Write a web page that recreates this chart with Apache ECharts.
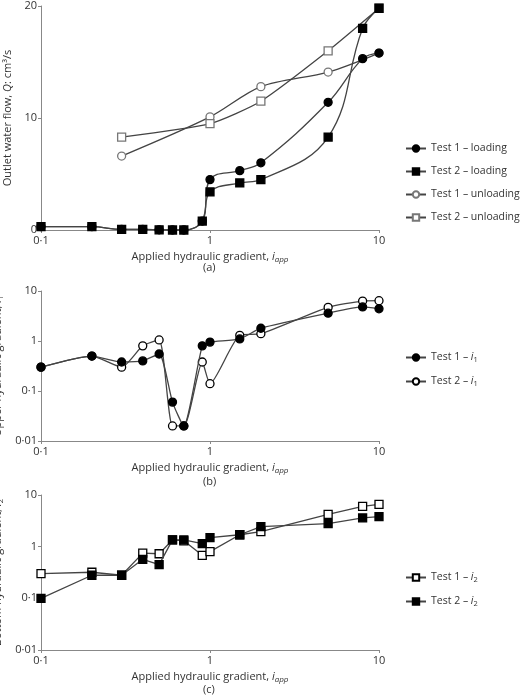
<!DOCTYPE html>
<html><head><meta charset="utf-8">
<script src="https://cdn.jsdelivr.net/npm/echarts@6/dist/echarts.min.js"></script>
<style>html,body{margin:0;padding:0;background:#fff}#c{width:520px;height:699px}</style>
</head><body><div id="c"></div>
<script>
const xAll = [0.1,0.2,0.3,0.4,0.5,0.6,0.7,0.9,1.0,1.5,2,5,8,10];
const xUnl = [0.3,1,2,5,10];
const aT1Load = [0.3,0.3,0.05,0.05,0.02,0,0,0.8,4.5,5.3,6.0,11.4,15.3,15.8];
const aT2Load = [0.3,0.3,0.05,0.05,0.02,0,0,0.8,3.4,4.2,4.5,8.3,18.0,19.8];
const aT1Unl = [6.6,10.1,12.8,14.1,15.8];
const aT2Unl = [8.3,9.5,11.5,16.0,19.8];
const bT1 = [0.3,0.5,0.38,0.4,0.55,0.06,0.02,0.8,0.95,1.1,1.8,3.6,4.8,4.4];
const bT2 = [0.3,0.5,0.3,0.8,1.05,0.02,0.02,0.38,0.14,1.3,1.4,4.7,6.3,6.4];
const cT1 = [0.3,0.32,0.28,0.75,0.73,1.35,1.3,0.68,0.8,1.7,1.95,4.2,6.0,6.6];
const cT2 = [0.1,0.28,0.28,0.57,0.45,1.35,1.35,1.15,1.5,1.7,2.45,2.8,3.6,3.8];

const pair = (xs, ys) => xs.map((x,i)=>[x,ys[i]]);
const F = 'Open Sans';
const fmt = v => String(+v.toPrecision(3)).replace('.', '·');
const txt = {color:'#333', fontFamily:F, fontSize:11};
const axLine = {show:true, lineStyle:{color:'#888', width:1}};
function xAxis(g){return {type:'log', gridIndex:g, min:0.1, max:10, logBase:10,
  axisLine:axLine, axisTick:{show:true,length:3,lineStyle:{color:'#888'}}, splitLine:{show:false}, minorTick:{show:false},
  axisLabel:Object.assign({formatter:fmt, margin:5},txt),
  name:'{n|Applied hydraulic gradient, }{i|i}{s|app}', nameLocation:'middle', nameGap:20,
  nameTextStyle:{rich:{n:txt, i:Object.assign({},txt,{fontStyle:'italic'}), s:Object.assign({},txt,{fontSize:8,fontStyle:'italic',padding:[6,0,0,0]})}}};}
function yLog(g,name,sub){return {type:'log', gridIndex:g, min:0.01, max:10, logBase:10,
  axisLine:axLine, axisTick:{show:true,length:3,lineStyle:{color:'#888'}}, splitLine:{show:false},
  axisLabel:Object.assign({formatter:fmt, margin:4},txt),
  name:'{n|'+name+'}{i|i}{s|'+sub+'}', nameLocation:'middle', nameGap:30,
  nameTextStyle:{rich:{n:txt, i:Object.assign({},txt,{fontStyle:'italic'}), s:Object.assign({},txt,{fontSize:8,padding:[5,0,0,0]})}}};}
function ser(name,g,data,sym,fill,border,smooth){return {name, type:'line', xAxisIndex:g, yAxisIndex:g, data,
  symbol:sym, symbolSize:8, smooth:smooth, clip:false, lineStyle:{color:'#444',width:1.3},
  itemStyle:{color:fill, borderColor:border, borderWidth:1.3}, emphasis:{disabled:true}, z:fill==='#fff'?3:4};}
const ltxt = {color:'#333', fontFamily:F, fontSize:10.5,
  rich:{n:{color:'#333',fontFamily:F,fontSize:10.5}, i:{color:'#333',fontFamily:F,fontSize:10.5,fontStyle:'italic'}, s:{color:'#333',fontFamily:F,fontSize:7.5,padding:[5,0,0,0]}}};
const legFmt = name => { const m = name.match(/^(.*– )i(\d)$/); return m ? '{n|'+m[1]+'}{i|i}{s|'+m[2]+'}' : name; };
const leg = (data, top) => ({data, left:400, top, orient:'vertical', itemGap:12, itemWidth:20, itemHeight:8,
  formatter:legFmt, textStyle:ltxt});

const chart = echarts.init(document.getElementById('c'));
chart.setOption({
  animation:false,
  grid:[{left:41,right:141,top:6,height:224,outerBoundsMode:'none'},{left:41,right:141,top:291,height:150,outerBoundsMode:'none'},{left:41,right:141,top:495,height:155,outerBoundsMode:'none'}],
  xAxis:[xAxis(0),xAxis(1),xAxis(2)],
  yAxis:[{type:'value', gridIndex:0, min:0, max:20, interval:10, axisLine:axLine, axisTick:{show:true,length:3,lineStyle:{color:'#888'}}, splitLine:{show:false},
    axisLabel:Object.assign({margin:4},txt),
    name:'{n|Outlet water flow, }{i|Q}{n|: cm³/s}', nameLocation:'middle', nameGap:24,
    nameTextStyle:{rich:{n:txt,i:Object.assign({},txt,{fontStyle:'italic'})}}},
    yLog(1,'Upper hydraulic gradient, ','1'), yLog(2,'Bottom hydraulic gradient, ','2')],
  legend:[
    leg(['Test 1 – loading','Test 2 – loading','Test 1 – unloading','Test 2 – unloading'],138),
    leg(['Test 1 – i1','Test 2 – i1'],347),
    leg(['Test 1 – i2','Test 2 – i2'],567)],
  series:[
    ser('Test 1 – loading',0,pair(xAll,aT1Load),'circle','#000','#000',0.4),
    ser('Test 2 – loading',0,pair(xAll,aT2Load),'rect','#000','#000',0.4),
    ser('Test 1 – unloading',0,pair(xUnl,aT1Unl),'circle','#fff','#777',0.3),
    ser('Test 2 – unloading',0,pair(xUnl,aT2Unl),'rect','#fff','#777',0.2),
    ser('Test 1 – i1',1,pair(xAll,bT1),'circle','#000','#000',0.2),
    ser('Test 2 – i1',1,pair(xAll,bT2),'circle','#fff','#000',0.2),
    ser('Test 1 – i2',2,pair(xAll,cT1),'rect','#fff','#000',0),
    ser('Test 2 – i2',2,pair(xAll,cT2),'rect','#000','#000',0)
  ],
  graphic:[
    {type:'text',left:203,top:262,style:{text:'(a)',fill:'#333',font:'11px "Open Sans"'}},
    {type:'text',left:203,top:476,style:{text:'(b)',fill:'#333',font:'11px "Open Sans"'}},
    {type:'text',left:203,top:684,style:{text:'(c)',fill:'#333',font:'11px "Open Sans"'}}
  ]
});
</script></body></html>
